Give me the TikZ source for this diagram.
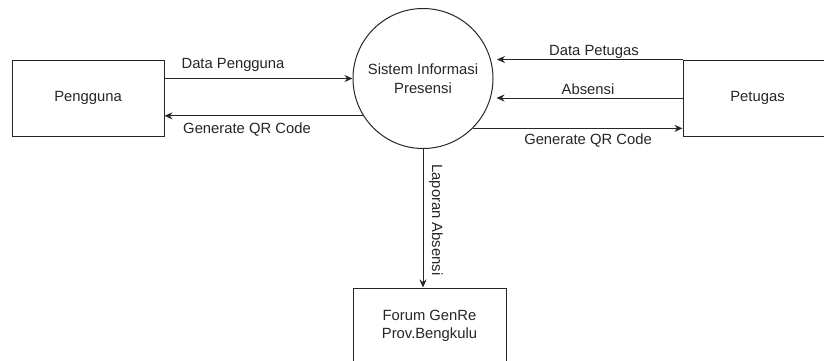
\documentclass[tikz,border=0pt]{standalone}
\usepackage{fontspec}
\setmainfont{Liberation Sans}
\usetikzlibrary{arrows.meta}
\begin{document}
\begin{tikzpicture}[x=1pt,y=-1pt,
  every node/.style={font=\fontsize{14.8}{18.5}\selectfont, text=black!85},
  entity/.style={draw=black!85, line width=1pt, minimum width=#1, minimum height=76pt, inner sep=0pt, align=center},
  process/.style={draw=black!85, line width=1pt, circle, minimum size=140pt, inner sep=0pt, align=center},
  flow/.style={draw=black!85, line width=1pt, -{Stealth[length=8pt,width=7pt]}},
  lbl/.style={anchor=base, inner sep=0pt}]
\useasboundingbox (0,0) rectangle (824,360);
\clip (0,0) rectangle (824,360);
\fill[white] (0,0) rectangle (824,360);

\node[entity=152pt] (pen) at (88,98) {Pengguna};
\node[process] (sis) at (423,78.5) {Sistem Informasi\\Presensi};
\node[entity=149pt] (pet) at (757.5,98) {Petugas};
\node[entity=153pt] (for) at (429.5,326) {Forum GenRe\\Prov.Bengkulu};

\draw[flow] (pen.east |- sis.west) -- (sis.west);
\draw[flow] (sis.212.9) -- (sis.212.9 -| pen.east);
\draw[flow] (pet.north west) -- ([xshift=3.5pt]sis.east |- pet.north west);
\draw[flow] (pet.west) -- ([xshift=3pt]sis.east |- pet.west);
\draw[flow] (sis.-45) -- (sis.-45 -| pet.west);
\draw[flow] (sis.south) -- (sis.south |- for.north);

\node[lbl] (l1) at (233,68.5) {Data Pengguna};
\node[lbl] (l2) at (247,133.5) {Generate QR Code};
\node[lbl] (l3) at (594,55.7) {Data Petugas};
\node[lbl] (l4) at (588,94) {Absensi};
\node[lbl] (l5) at (588,144) {Generate QR Code};
\node[rotate=-90, inner sep=0pt] (l6) at (436,220) {Laporan Absensi};
\end{tikzpicture}
\end{document}
